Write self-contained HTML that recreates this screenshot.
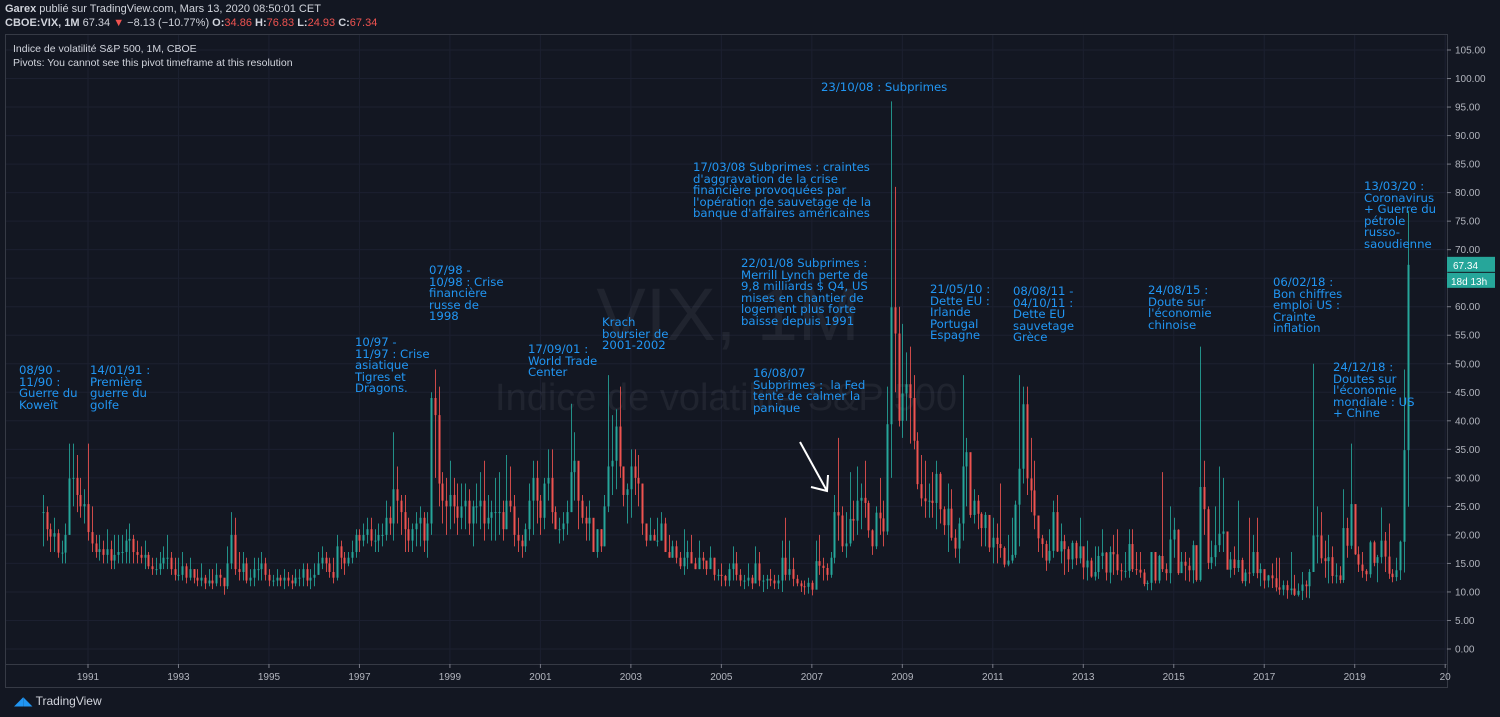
<!DOCTYPE html>
<html><head><meta charset="utf-8">
<style>
html,body{margin:0;padding:0;background:#131722;}
body{width:1500px;height:717px;overflow:hidden;position:relative;font-family:"Liberation Sans","DejaVu Sans",sans-serif;}
.hdr{position:absolute;left:5px;color:#d1d4dc;font-size:11px;white-space:nowrap;}
.ann{position:absolute;color:#2196f3;font-family:"DejaVu Sans","Liberation Sans",sans-serif;font-size:11.7px;line-height:11.5px;white-space:pre;}
svg{position:absolute;left:0;top:0;}
</style></head><body>
<svg id="chart" width="1500" height="717"></svg>
<div class="hdr" style="top:3px"><b>Garex</b> publié sur TradingView.com, Mars 13, 2020 08:50:01 CET</div>
<div class="hdr" style="top:17px"><b>CBOE:VIX, 1M</b> 67.34 <span style="color:#ef5350">▼</span> −8.13 (−10.77%) <b>O:</b><span style="color:#ef5350">34.86</span> <b>H:</b><span style="color:#ef5350">76.83</span> <b>L:</b><span style="color:#ef5350">24.93</span> <b>C:</b><span style="color:#ef5350">67.34</span></div>
<div class="hdr" style="top:43px;left:13px;font-size:10.5px">Indice de volatilité S&amp;P 500, 1M, CBOE</div>
<div class="hdr" style="top:57px;left:13px;font-size:10.5px">Pivots: You cannot see this pivot timeframe at this resolution</div>

<div class="ann" style="left:19px;top:365px">08/90 -
11/90 :
Guerre du
Koweït</div>
<div class="ann" style="left:90px;top:365px">14/01/91 :
Première
guerre du
golfe</div>
<div class="ann" style="left:355px;top:337px">10/97 -
11/97 : Crise
asiatique
Tigres et
Dragons.</div>
<div class="ann" style="left:429px;top:265px">07/98 -
10/98 : Crise
financière
russe de
1998</div>
<div class="ann" style="left:528px;top:344px">17/09/01 :
World Trade
Center</div>
<div class="ann" style="left:602px;top:317px">Krach
boursier de
2001-2002</div>
<div class="ann" style="left:693px;top:162px">17/03/08 Subprimes : craintes
d'aggravation de la crise
financière provoquées par
l'opération de sauvetage de la
banque d'affaires américaines</div>
<div class="ann" style="left:741px;top:258px">22/01/08 Subprimes :
Merrill Lynch perte de
9,8 milliards $ Q4, US
mises en chantier de
logement plus forte
baisse depuis 1991</div>
<div class="ann" style="left:753px;top:368px">16/08/07
Subprimes :  la Fed
tente de calmer la
panique</div>
<div class="ann" style="left:821px;top:82px">23/10/08 : Subprimes</div>
<div class="ann" style="left:930px;top:284px">21/05/10 :
Dette EU :
Irlande
Portugal
Espagne</div>
<div class="ann" style="left:1013px;top:286px">08/08/11 -
04/10/11 :
Dette EU
sauvetage
Grèce</div>
<div class="ann" style="left:1148px;top:285px">24/08/15 :
Doute sur
l'économie
chinoise</div>
<div class="ann" style="left:1273px;top:277px">06/02/18 :
Bon chiffres
emploi US :
Crainte
inflation</div>
<div class="ann" style="left:1333px;top:362px">24/12/18 :
Doutes sur
l'économie
mondiale : US
+ Chine</div>
<div class="ann" style="left:1364px;top:181px">13/03/20 :
Coronavirus
+ Guerre du
pétrole
russo-
saoudienne</div>

<div style="position:absolute;left:14px;top:694px;color:#d1d4dc;font-size:12px"><span style="color:#2196f3">◢◣</span> TradingView</div>

<script>
const closes=[
24,21,19.7,20.3,16.9,16.9,20,29.9,30,27,25,25.4,
20.5,18.5,17,17.5,16.5,17.5,15.5,16.5,17,17,19,19.3,
17,16.5,16,16.5,14.5,14,14,15,16,16,14,13,
13,14.5,12.5,14,12.5,12,12.5,11.5,12,11.5,13,12.5,
11,15,20,14,13.5,15,12,12.5,14,14,15,13,
12,12,12.5,12,12.5,12,11.5,12.5,12.5,14,12,12.5,
13,15,16,15,13.5,12.5,18,16,15,16,17,20,
19,20,21,19,19,20,20,23,22,28,26,24,
21,19,21,22,23,19,22,44,41,29,26,25,
27,25,23,25,26,22,25,25,26,22,23,24,
24,24,21,26,25,20,19,18,21,26,30,26,
23,29,30,24,21,21,22,24,31,33,26,23,
22,23,17,21,18,25,32,33,39,32,27,28,
32,30,29,22,19,20,19,19,22,17,16,18,
16,14.5,16,17,15,14,16,15.5,14,16,13,13,
12.8,12,14,15,13,12,12,12.5,11.5,15,12,12,
12.3,12,11.5,12,16,13,14,12.3,11.5,11,10.9,11.6,
10.4,15.4,14.6,14.2,13,16,24,23.4,18,18.5,22.8,22.5,
26,26.5,25.6,20.8,18,23.9,22.9,20.6,39.4,59.9,55.3,40,
44.8,46.4,44,36.5,28.9,26.4,25.9,26,25.6,30.7,24.5,21.7,
24.6,19.5,17.6,22,32,34.5,23.5,26,23.7,21.2,23.5,17.8,
19.5,18.4,17.7,14.8,15.5,16.5,25.3,31.6,42.9,29.9,27.8,23.4,
19.4,18.4,15.5,17.2,24,17.1,18.9,17.5,15.7,18.6,15.9,18,
14.3,15.5,12.7,13.5,16.3,16.9,13.4,17,16.6,13.8,13.7,13.7,
18.4,14,13.9,13.4,11.4,11.6,17,12,16.3,14,13.3,19.2,
20.9,13.3,15.3,14.6,13.8,18.2,12.1,28.4,24.5,15.1,16.1,18.2,
20.2,20.6,13.9,15.7,14.2,15.6,11.9,13.4,13.3,17,13.3,14,
12,12.9,12.4,10.8,10.4,11.2,10.3,10.6,9.5,10.2,11.3,11,
13.5,19.9,19.9,15.9,15.4,16.1,12.8,12.9,12.1,21.2,18.1,25.4,
16.6,14.8,13.7,13.1,18.7,15.1,16.1,19,16.2,13.2,12.6,13.8,
18.8,34.86,67.34];
const highs=[
27,25,22,23,21,19,22,36,36,34,30,28,
36,25,20,20,19,21,19,20,20,20,21,22,
20,19,18,19,17,16,16,17,18,20,17,16,
16,17,15,16,14,14,15,13,14,14,15,14,
12,18,24,23,17,17,16,14,16,16,17,16,
14,13,14,13,14,13.5,13,14,14,15,15,14,
15,17,18,17,16,16,20,19,17,17,19,21,
21,22,23,23,21,22,22,26,25,38,32,27,
27,23,22,24,25,24,24,45,49,46,31,30,
33,30,29,29,29,28,26,29,31,33,27,26,
30,31,26,34,32,27,23,20,22,29,33,33,
27,30,35,35,25,23,24,26,43,38,30,27,
25,26,22,21,21,27,48,41,42,46,32,29,
35,35,34,29,22,23,21,23,24,23,20,19,
19,17,21,19,20,16,19,17,15,18,16,14,
15,13,15,18,17,14,13,15,13,18,17,13,
13,14,13,13,19,23,19,16,13,12,12,12.5,
12,19,20,16,15,17,27,37,25,24,31,26,
32,29,33,26,21,25,30,26,46,96,81,60,
57,52,53,48,38,34,33,29,31,33,31,25,
29,28,21,23,48,37,34,28,27,24,24,23,
23,22,29,18,20,23,26,48,46,46,37,33,
23,20,19,21,26,27,22,20,18,19,19,23,
15,19,16,18,18,21,17,18,20,21,15,17,
21,21,17,17,14,12,17,17,16.5,31,15,25,
23,21,17,17,16,19,18,53,33,25,19,25,
32,30,20,17,18,26,16,14,23,20,23,15,
13,13,15,16,16,12,12,17,13,11.5,13.5,12,
14,50,25,24,19,20,18,15,14.5,28,23,36,
25,18,17,14,19,19,16.5,24.8,20.5,22,14,16,
19,49,76.83];
const lows=[
18,19,17,17,16,15,15,20,25,24,23,22,
19,17,16,15.5,15,15,14,14,15,15,15,15,
15,15,15,14,14,13,13,13,14,14,13,12,
12,12,11.5,12,11.5,11,11,10.5,11,10.5,11,11,
9.5,10.5,14,13,12,12,11.5,11,11,12,12,12,
11,11,11,11,10.5,11,10.5,11,11,11,11,10.5,
11,13,14,13.5,12.5,11.5,12,14,13,14.5,15,16,
17,18,18.5,18,17,17,18,19,20,19,22,20,
17,17,17,18,18,17,16,20,30,25,22,20,
21,22,20,21,21,20,18,22,21,19,21,19,
19,20,19,21,24,18,17,16,17,19,20,22,
20,21,26,22,21,18.5,19,20,24,26,21,22,
19,19,17,16,17,18,24,27,28,30,25,22,
23,27,25,20,18,19,19,18,19,17,16,16,
15,14,13,14,15,14,14,14,13,14,12,12,
11,11,11,12,12,11,10.5,11,10.5,11.5,11,10,
10.5,11,10.5,10.5,10,12,12,11,11,10,9.5,9.7,
9.4,10.6,13,12,12,12.5,15,19,17,16,18,19,
20,21,23,19.5,16.5,17.5,20,18,20,30,45,39,
37,40,36,35,28,25,23,23,23,21,22,20,
17,19,16,15,19,25,23,22,21,18,18,17,
15,15,16,14.3,14.5,15,16,18,29,27,24,21,
17,16,13.7,15,16,17,15,13,13.5,14,14.7,15,
12.2,12,12.5,12,12.3,14,12,11.5,13,13,12,12.5,
12.5,13.5,13,12.5,11,10.3,10.3,11.5,11.5,13.5,12,11.5,
16,13,13.5,12,11.8,11.5,11.8,11.8,20,14,14,14.5,
17,17,14,12.5,13,13.5,11.5,11,11.5,12.8,12.4,11,
10.6,10.8,10.7,10.1,9.5,9.4,8.8,9.5,9.3,9.2,8.6,9,
8.9,13.5,15,15,12.5,11.5,11.5,11.5,11.5,11.6,16,17.5,
16.5,13.5,12.5,11.9,12.5,14.5,11.7,15,13.5,12.3,11.7,11.9,
12.1,13.4,24.93];
const startYear=1990;
const yearTicks=[1991,1993,1995,1997,1999,2001,2003,2005,2007,2009,2011,2013,2015,2017,2019,2021];
const priceTicks=[0,5,10,15,20,25,30,35,40,45,50,55,60,65,70,75,80,85,90,95,100,105];
const lastPrice=67.34;

const NS="http://www.w3.org/2000/svg";
const svg=document.getElementById('chart');
const PL=5,PR=1447,PT=34,PB=664;
const monthW=3.77;
function xM(i){return 88+(i-12)*monthW;}
function xYear(y){return 88+(y-1991)*12*monthW;}
function yV(v){return 649-v*(599/105);}
function el(tag,attrs,parent){const e=document.createElementNS(NS,tag);for(const k in attrs)e.setAttribute(k,attrs[k]);(parent||svg).appendChild(e);return e;}

const grid=el('g',{});


priceTicks.forEach(v=>{el('line',{x1:PL,x2:PR,y1:yV(v),y2:yV(v),stroke:'#1c2030','stroke-width':1},grid);});
yearTicks.forEach(y=>{const x=xYear(y);if(x<PR)el('line',{x1:x,x2:x,y1:PT,y2:PB,stroke:'#1c2030','stroke-width':1},grid);});

const wm=el('text',{x:728,y:340,'text-anchor':'middle','font-size':74,fill:'#ffffff','fill-opacity':0.06,'font-family':'Liberation Sans, sans-serif'});
wm.textContent='VIX, 1M';


const wm2=el('text',{x:726,y:410,'text-anchor':'middle','font-size':38,fill:'#ffffff','fill-opacity':0.06,'font-family':'Liberation Sans, sans-serif'});
wm2.textContent='Indice de volatilité S&P 500';



el('rect',{x:PL+0.5,y:PT+0.5,width:PR-PL,height:687-PT,fill:'none',stroke:'#363a45'});
el('line',{x1:PL,x2:PR,y1:PB+0.5,y2:PB+0.5,stroke:'#363a45'});
el('line',{x1:PR+0.5,x2:PR+0.5,y1:PT,y2:687,stroke:'#363a45'});

const cg=el('g',{});


for(let i=0;i<closes.length;i++){
  const o=i===0?closes[0]:closes[i-1], c=closes[i];
  const up=c>=o, col=up?'#26a69a':'#ef5350';
  const x=Math.round(xM(i));
  const g=el('g',{},cg);
  
  
  el('line',{x1:x+0.5,x2:x+0.5,y1:yV(highs[i]),y2:yV(lows[i]),stroke:col,'stroke-width':1,'stroke-opacity':0.85},g);
  const yt=yV(Math.max(o,c)),yb=yV(Math.min(o,c));
  el('rect',{x:x-0.5,y:yt,width:2,height:Math.max(1,yb-yt),fill:col},g);
}

const ya=el('g',{'font-size':10,fill:'#b2b5be','font-family':'Liberation Sans, sans-serif'});


priceTicks.forEach(v=>{
  el('line',{x1:PR,x2:PR+4,y1:yV(v),y2:yV(v),stroke:'#787b86'},ya);
  const t=el('text',{x:1455,y:yV(v)+3.5},ya);t.textContent=v.toFixed(2);
});
const xa=el('g',{'font-size':10,fill:'#b2b5be','font-family':'Liberation Sans, sans-serif','text-anchor':'middle'});


yearTicks.forEach(y=>{const x=xYear(y);if(x<1500){el('line',{x1:x,x2:x,y1:PB,y2:PB+4,stroke:'#787b86'},xa);const t=el('text',{x:x,y:680},xa);t.textContent=(y>2020?'20':String(y));}});

const lp=el('g',{});


el('rect',{x:PR,y:yV(lastPrice)-8,width:48,height:15,fill:'#26a69a'},lp);
const lpt=el('text',{x:1453,y:yV(lastPrice)+4,'font-size':10,fill:'#fff','font-family':'Liberation Sans, sans-serif'},lp);lpt.textContent=lastPrice.toFixed(2);
el('rect',{x:PR,y:yV(lastPrice)+8,width:48,height:15,fill:'#26a69a'},lp);
const cd=el('text',{x:1451,y:yV(lastPrice)+20,'font-size':10,fill:'#fff','font-family':'Liberation Sans, sans-serif'},lp);cd.textContent='18d 13h';

const ar=el('g',{stroke:'#ffffff','stroke-width':2,fill:'none'});


el('line',{x1:800,y1:442,x2:827,y2:491},ar);
el('polyline',{points:'811,487 827,491 828,475'},ar);
</script>
</body></html>
